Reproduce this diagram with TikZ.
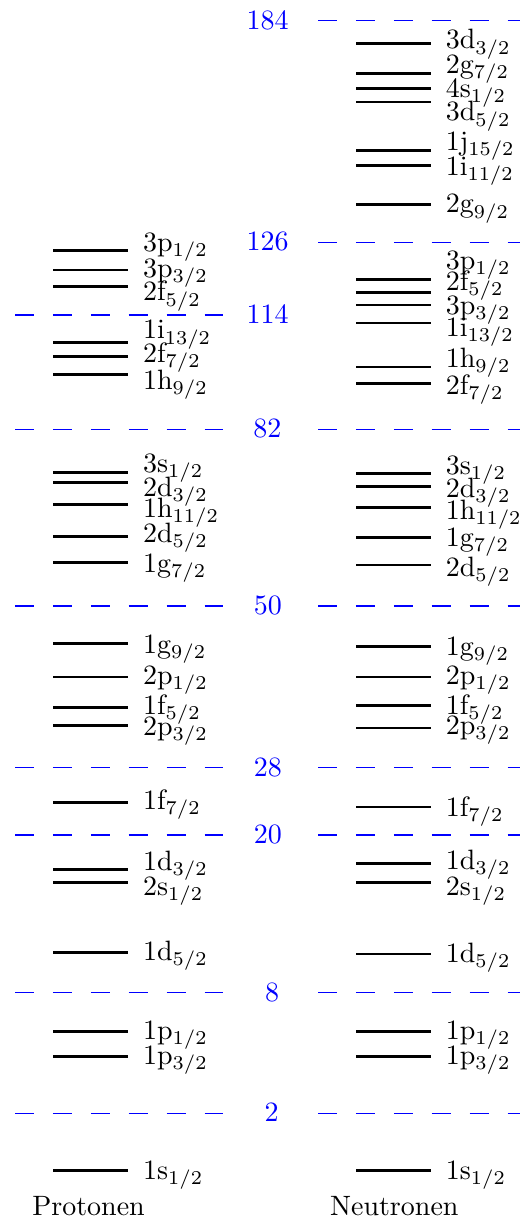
\documentclass[tikz,border=0pt]{standalone}
\newcommand\jj[2]{$_{#1/#2}$}
\begin{document}
\begin{tikzpicture}[x=0.35714pt,y=-0.35714pt,
  lvl/.style={line width=0.9pt},
  magicline/.style={blue,line width=0.45pt,dash pattern=on 6.75pt off 6.79pt},
  magicnum/.style={blue,anchor=base,inner sep=0pt},
  lab/.style={anchor=base west,inner sep=0pt},
  coltitle/.style={anchor=base,inner sep=0pt}]
\useasboundingbox (0,0) rectangle (520,1220);
\newcommand\plev[4]{\draw[lvl] (53.3,#1) -- (128.3,#1); \node[lab] (#4) at (142.6,#2+9) {#3};}
\newcommand\nlev[4]{\draw[lvl] (356,#1) -- (430.7,#1); \node[lab] (#4) at (445.3,#2+9) {#3};}
\newcommand\magL[1]{\draw[magicline] (15,#1) -- (224,#1);}
\newcommand\magR[1]{\draw[magicline] (318,#1) -- (520,#1);}
\newcommand\magN[4]{\node[magicnum] (#4) at (#1,#2+8.5) {#3};}
% magic numbers
\magR{20.7}\magN{267.5}{20.7}{184}{m184}
\magR{242.3}\magN{267.5}{242.3}{126}{m126}
\magL{315}\magN{267.5}{315}{114}{m114}
\magL{429.3}\magR{429.3}\magN{267.3}{429.3}{82}{m82}
\magL{606}\magR{606}\magN{267.8}{606}{50}{m50}
\magL{767.7}\magR{767.7}\magN{267.8}{767.7}{28}{m28}
\magL{835}\magR{835}\magN{267.8}{835}{20}{m20}
\magL{992.7}\magR{992.7}\magN{272}{992.7}{8}{m8}
\magL{1113.3}\magR{1113.3}\magN{271.7}{1113.3}{2}{m2}
% protons
\plev{250.7}{242.8}{3p\jj12}{p1}
\plev{270}{268.7}{3p\jj32}{p2}
\plev{286.7}{292}{2f\jj52}{p3}
\plev{342.7}{330}{1i\jj{13}2}{p4}
\plev{356.3}{353.3}{2f\jj72}{p5}
\plev{374.3}{380}{1h\jj92}{p6}
\plev{472.7}{463.8}{3s\jj12}{p7}
\plev{482.7}{487.2}{2d\jj32}{p8}
\plev{504.7}{508.3}{1h\jj{11}2}{p9}
\plev{536.3}{533.8}{2d\jj52}{p10}
\plev{562.7}{563.3}{1g\jj72}{p11}
\plev{643.3}{644}{1g\jj92}{p12}
\plev{677}{675}{2p\jj12}{p13}
\plev{707.3}{705}{1f\jj52}{p14}
\plev{725.3}{726.7}{2p\jj32}{p15}
\plev{802.3}{800.8}{1f\jj72}{p16}
\plev{869.3}{861.7}{1d\jj32}{p17}
\plev{882.7}{886.7}{2s\jj12}{p18}
\plev{952.3}{951.7}{1d\jj52}{p19}
\plev{1031.3}{1030}{1p\jj12}{p20}
\plev{1056.7}{1055}{1p\jj32}{p21}
\plev{1170.7}{1170}{1s\jj12}{p22}
% neutrons
\nlev{43.3}{40}{3d\jj32}{n1}
\nlev{73.3}{64.3}{2g\jj72}{n2}
\nlev{88.7}{88.3}{4s\jj12}{n3}
\nlev{102}{112}{3d\jj52}{n4}
\nlev{150.7}{141.7}{1j\jj{15}2}{n5}
\nlev{165.7}{166.7}{1i\jj{11}2}{n6}
\nlev{204.7}{204}{2g\jj92}{n7}
\nlev{279.3}{260.5}{3p\jj12}{n8}
\nlev{292.7}{281.7}{2f\jj52}{n9}
\nlev{305}{305}{3p\jj32}{n10}
\nlev{323}{327}{1i\jj{13}2}{n11}
\nlev{367}{358.3}{1h\jj92}{n12}
\nlev{383.3}{385}{2f\jj72}{n13}
\nlev{473.7}{465.3}{3s\jj12}{n14}
\nlev{486.3}{488.7}{2d\jj32}{n15}
\nlev{507.3}{510}{1h\jj{11}2}{n16}
\nlev{537.7}{537.5}{1g\jj72}{n17}
\nlev{565}{567.5}{2d\jj52}{n18}
\nlev{646.7}{646.7}{1g\jj92}{n19}
\nlev{677}{675}{2p\jj12}{n20}
\nlev{705.7}{705}{1f\jj52}{n21}
\nlev{728}{725}{2p\jj32}{n22}
\nlev{807}{807}{1f\jj72}{n23}
\nlev{863.3}{860}{1d\jj32}{n24}
\nlev{882.7}{886.7}{2s\jj12}{n25}
\nlev{954}{953.3}{1d\jj52}{n26}
\nlev{1031.3}{1030}{1p\jj12}{n27}
\nlev{1056.7}{1055}{1p\jj32}{n28}
\nlev{1170.7}{1170}{1s\jj12}{n29}
% titles
\node[coltitle] (prot) at (88.5,1215) {Protonen};
\node[coltitle] (neut) at (394.3,1215) {Neutronen};
\end{tikzpicture}
\end{document}
